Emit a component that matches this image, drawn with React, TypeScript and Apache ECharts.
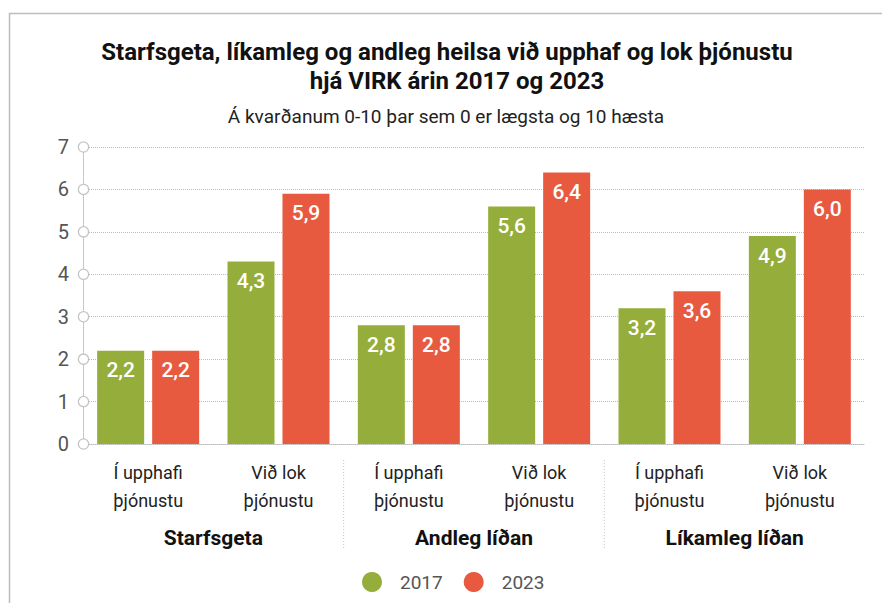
import React, { useEffect, useRef } from "react";
import * as echarts from "echarts";

const subCategories = ["Í upphafi\nþjónustu", "Við lok\nþjónustu", "Í upphafi\nþjónustu", "Við lok\nþjónustu", "Í upphafi\nþjónustu", "Við lok\nþjónustu"];
const groups = ["Starfsgeta", "Andleg líðan", "Líkamleg líðan"];
const values2017 = [2.2, 4.3, 2.8, 5.6, 3.2, 4.9];
const values2023 = [2.2, 5.9, 2.8, 6.4, 3.6, 6.0];

const FONT = "Roboto, 'Liberation Sans', sans-serif";
const GREEN = "#95ad3a";
const RED = "#e85a40";

export default function App() {
  const ref = useRef<HTMLDivElement>(null);
  useEffect(() => {
    if (!ref.current) return;
    const chart = echarts.init(ref.current, null, { renderer: "svg" });
    const fmt = (v: number) => v.toFixed(1).replace(".", ",");
    const option: any = {
      animation: false,
      backgroundColor: "#ffffff",
      textStyle: { fontFamily: FONT },
      grid: { left: 83, right: 17, top: 147, bottom: 159, containLabel: false },
      legend: {
        left: 357,
        top: 567,
        itemWidth: 20,
        itemHeight: 20,
        itemGap: 21,
        icon: "circle",
        textStyle: { fontFamily: FONT, fontSize: 19, color: "#555", padding: [0, 0, 0, 13] },
        data: ["2017", "2023"],
      },
      xAxis: [
        {
          type: "category",
          data: subCategories,
          axisLine: { show: true, lineStyle: { color: "#bbb", type: "dotted", width: 1 } },
          axisTick: { show: false },
          axisLabel: { fontFamily: FONT, fontSize: 18, color: "#222", lineHeight: 28, margin: 14, interval: 0 },
        },
        {
          type: "category",
          position: "bottom",
          data: groups,
          axisLine: { show: false },
          axisTick: { show: false },
          axisLabel: { fontFamily: FONT, fontSize: 21, fontWeight: "bold", color: "#111", margin: 83, interval: 0 },
        },
      ],
      yAxis: {
        type: "value",
        min: 0,
        max: 7,
        interval: 1,
        axisLine: { show: true, lineStyle: { color: "#bbb", type: "dotted", width: 1 } },
        axisTick: { show: false },
        splitLine: { show: true, lineStyle: { color: "#bbb", type: "dotted", width: 1 } },
        axisLabel: {
          margin: -5,
          formatter: (v: number) => `{v|${v}}{c|}`,
          rich: {
            v: { fontFamily: FONT, fontSize: 20, color: "#555", padding: [0, 10, 0, 0] },
            c: { width: 9, height: 9, borderColor: "#c4c4c4", borderWidth: 1.3, borderRadius: 6, backgroundColor: "#fff" },
          },
        },
      },
      series: [
        {
          name: "2017",
          type: "bar",
          data: values2017,
          barWidth: 47,
          barGap: "17%",
          itemStyle: { color: GREEN },
          label: { show: true, position: "insideTop", distance: 9, color: "#fff", fontFamily: FONT, fontSize: 21, fontWeight: 500, formatter: (p: any) => fmt(p.value) },
        },
        {
          name: "2023",
          type: "bar",
          data: values2023,
          barWidth: 47,
          itemStyle: { color: RED },
          label: { show: true, position: "insideTop", distance: 9, color: "#fff", fontFamily: FONT, fontSize: 21, fontWeight: 500, formatter: (p: any) => fmt(p.value) },
        },
      ],
      graphic: [
        { type: "rect", left: 7, top: 11, shape: { width: 900, height: 700 }, style: { fill: "none", stroke: "#bdbdbd", lineWidth: 1.5 }, silent: true, z: -10 },
        { type: "text", x: 447, y: 52, style: { text: "Starfsgeta, líkamleg og andleg heilsa við upphaf og lok þjónustu", font: `bold 24px ${FONT}`, fill: "#111", align: "center", verticalAlign: "middle" } },
        { type: "text", x: 457, y: 81, style: { text: "hjá VIRK árin 2017 og 2023", font: `bold 24px ${FONT}`, fill: "#111", align: "center", verticalAlign: "middle" } },
        { type: "text", x: 446, y: 116, style: { text: "Á kvarðanum 0-10 þar sem 0 er lægsta og 10 hæsta", font: `19px ${FONT}`, fill: "#222", align: "center", verticalAlign: "middle" } },
      ],
    };
    chart.setOption(option);
    const seps: any[] = [];
    [2, 4].forEach((i) => {
      const a = chart.convertToPixel({ xAxisIndex: 0 }, i - 1) as number;
      const b = chart.convertToPixel({ xAxisIndex: 0 }, i) as number;
      const x = (a + b) / 2;
      seps.push({ type: "line", shape: { x1: x, y1: 460, x2: x, y2: 550 }, style: { stroke: "#c4c4c4", lineDash: [1, 2], lineWidth: 1 }, silent: true });
    });
    chart.setOption({ graphic: [...option.graphic, ...seps] });
    return () => chart.dispose();
  }, []);
  return <div ref={ref} style={{ position: "absolute", left: 0, top: 0, width: 882, height: 603 }} />;
}
